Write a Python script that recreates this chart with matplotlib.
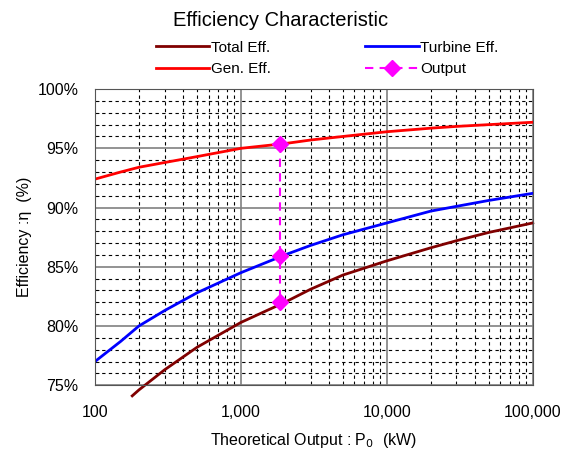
import matplotlib.pyplot as plt
from matplotlib.ticker import FixedLocator, FuncFormatter, LogLocator, NullFormatter

plt.rcParams['font.family'] = ['Liberation Sans', 'DejaVu Sans']

# values (kW, %)
kw = [100, 150, 200, 300, 500, 1000, 2000, 3000, 5000, 10000, 20000, 30000, 50000, 100000]
gen_eff = [92.4, 93.0, 93.4, 93.8, 94.3, 95.0, 95.4, 95.7, 96.0, 96.4, 96.7, 96.85, 97.0, 97.2]
turbine_eff = [77.0, 78.7, 80.0, 81.3, 82.8, 84.5, 86.0, 86.8, 87.7, 88.7, 89.7, 90.1, 90.6, 91.2]
kw_total = [180, 200, 300, 500, 1000, 2000, 3000, 5000, 10000, 20000, 30000, 50000, 100000]
total_eff = [74.1, 74.6, 76.3, 78.2, 80.3, 82.0, 83.1, 84.3, 85.5, 86.6, 87.2, 87.9, 88.7]
out_kw = [1850, 1850, 1850]
out_eff = [95.4, 85.9, 82.0]

fig = plt.figure(figsize=(5.62, 4.5), dpi=100)
ax = fig.add_axes([0.169, 0.144, 0.779, 0.658])

l_tot, = ax.plot(kw_total, total_eff, color='#800000', lw=2, label='Total Eff.', clip_on=False)
l_gen, = ax.plot(kw, gen_eff, color='#ff0000', lw=2, label='Gen. Eff.')
l_tur, = ax.plot(kw, turbine_eff, color='#0000ff', lw=2, label='Turbine Eff.')
l_out, = ax.plot(out_kw, out_eff, color='#ff00ff', lw=1.5, ls=(0, (4, 3)), marker='D',
                 ms=8, label='Output', zorder=5)

ax.set_xscale('log')
ax.set_xlim(100, 100000)
ax.set_ylim(75, 100)
ax.xaxis.set_major_locator(FixedLocator([100, 1000, 10000, 100000]))
ax.xaxis.set_minor_locator(LogLocator(base=10, subs=range(2, 10)))
ax.xaxis.set_minor_formatter(NullFormatter())
ax.xaxis.set_major_formatter(FuncFormatter(lambda v, p: f'{int(v):,}'))
ax.yaxis.set_major_locator(FixedLocator(range(75, 101, 5)))
ax.yaxis.set_minor_locator(FixedLocator(range(75, 101)))
ax.yaxis.set_major_formatter(FuncFormatter(lambda v, p: f'{int(v)}%'))

ax.grid(which='major', color='#808080', lw=1.2, ls='-')
ax.grid(which='minor', color='black', lw=0.8, ls=(0, (3, 3)))
ax.set_axisbelow(True)
ax.tick_params(which='both', direction='in', labelsize=11.5)
ax.tick_params(which='major', length=0, pad=12)
ax.tick_params(which='minor', length=3)
ax.tick_params(axis='x', pad=14)
for s in ax.spines.values():
    s.set_color('#555555')

ax.set_ylabel('Efficiency :η  (%)', fontsize=11.5)
ax.set_xlabel('Theoretical Output : P$_0$  (kW)', fontsize=11.5, labelpad=8)
fig.suptitle('Efficiency Characteristic', fontsize=14.5, y=0.975)

fig.legend(handles=[l_tot, l_gen, l_tur, l_out], ncol=2, frameon=False, fontsize=11,
           loc='upper left', bbox_to_anchor=(0.277, 0.91), handlelength=3.5,
           handletextpad=0.1, columnspacing=6.2, labelspacing=0.5, borderpad=0,
           borderaxespad=0)

fig.savefig('out.png', dpi=100)
